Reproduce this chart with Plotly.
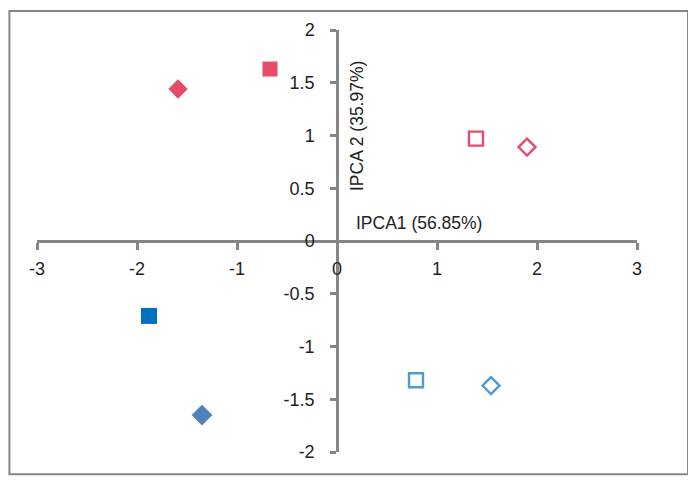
import plotly.graph_objects as go

# PCA scores
red_fill_x = [-1.59, -0.67]
red_fill_y = [1.44, 1.63]
red_open_x = [1.39, 1.90]
red_open_y = [0.97, 0.89]
blue_fill_sq_x = [-1.88]
blue_fill_sq_y = [-0.71]
blue_fill_dia_x = [-1.35]
blue_fill_dia_y = [-1.65]
blue_open_x = [0.79, 1.54]
blue_open_y = [-1.32, -1.37]

x_ticks = [-3, -2, -1, 0, 1, 2, 3]
y_ticks = [-2, -1.5, -1, -0.5, 0, 0.5, 1, 1.5, 2]

RED = '#D8002A'
BLUE = '#0070C0'
STEEL = '#4F81BD'
GREY = '#868686'

fig = go.Figure()

# filled red: diamond then square
fig.add_trace(go.Scatter(x=red_fill_x, y=red_fill_y, mode='markers',
                         marker=dict(symbol=['diamond', 'square'], color=RED,
                                     size=[15, 15], line=dict(width=0))))
# open red: square then diamond
fig.add_trace(go.Scatter(x=red_open_x, y=red_open_y, mode='markers',
                         marker=dict(symbol=['square-open', 'diamond-open'], color=RED,
                                     size=[14, 13], line=dict(width=2.4))))
fig.add_trace(go.Scatter(x=blue_fill_sq_x, y=blue_fill_sq_y, mode='markers',
                         marker=dict(symbol='square', color=BLUE, size=16, line=dict(width=0))))
fig.add_trace(go.Scatter(x=blue_fill_dia_x, y=blue_fill_dia_y, mode='markers',
                         marker=dict(symbol='diamond', color=STEEL, size=16, line=dict(width=0))))
fig.add_trace(go.Scatter(x=blue_open_x, y=blue_open_y, mode='markers',
                         marker=dict(symbol=['square-open', 'diamond-open'], color=BLUE,
                                     size=[14, 13], line=dict(width=2.4))))

# axis titles placed next to the crossing axes
fig.add_annotation(x=0.17, y=0.17, text='IPCA1 (56.85%)', showarrow=False,
                   xanchor='left', yanchor='middle',
                   font=dict(size=17.5, color='#222222'))
fig.add_annotation(x=0.2, y=1.09, text='IPCA 2 (35.97%)', showarrow=False,
                   textangle=-90, xanchor='center', yanchor='middle',
                   font=dict(size=17.5, color='#222222'))

# outer frame
fig.add_shape(type='rect', xref='paper', yref='paper',
              x0=-0.046, x1=1.085, y0=-0.053, y1=1.045,
              line=dict(color=GREY, width=2), fillcolor='rgba(0,0,0,0)')

fig.update_xaxes(range=[-3, 3], tickvals=x_ticks, ticktext=[str(v) for v in x_ticks],
                 anchor='free', position=0.5, showline=True, linecolor=GREY, linewidth=2.5,
                 ticks='outside', ticklen=7, tickwidth=2.5, tickcolor=GREY,
                 showgrid=False, zeroline=False, ticklabelstandoff=4,
                 tickfont=dict(size=18, color='#222222'))
fig.update_yaxes(range=[-2, 2], tickvals=y_ticks,
                 ticktext=['-2', '-1.5', '-1', '-0.5', '0', '0.5', '1', '1.5', '2'],
                 anchor='free', position=0.5, showline=True, linecolor=GREY, linewidth=2.5,
                 ticks='outside', ticklen=6, tickwidth=2.5, tickcolor=GREY,
                 showgrid=False, zeroline=False, ticklabelstandoff=12,
                 tickfont=dict(size=18, color='#222222'))

# page body adds ~8px around the figure, so the figure is a bit smaller than the window
fig.update_layout(width=680, height=468, showlegend=False,
                  plot_bgcolor='white', paper_bgcolor='white',
                  font=dict(family='Liberation Sans, Arial, sans-serif'),
                  margin=dict(l=29, r=51, t=20, b=24))

fig.write_html("out.html")
